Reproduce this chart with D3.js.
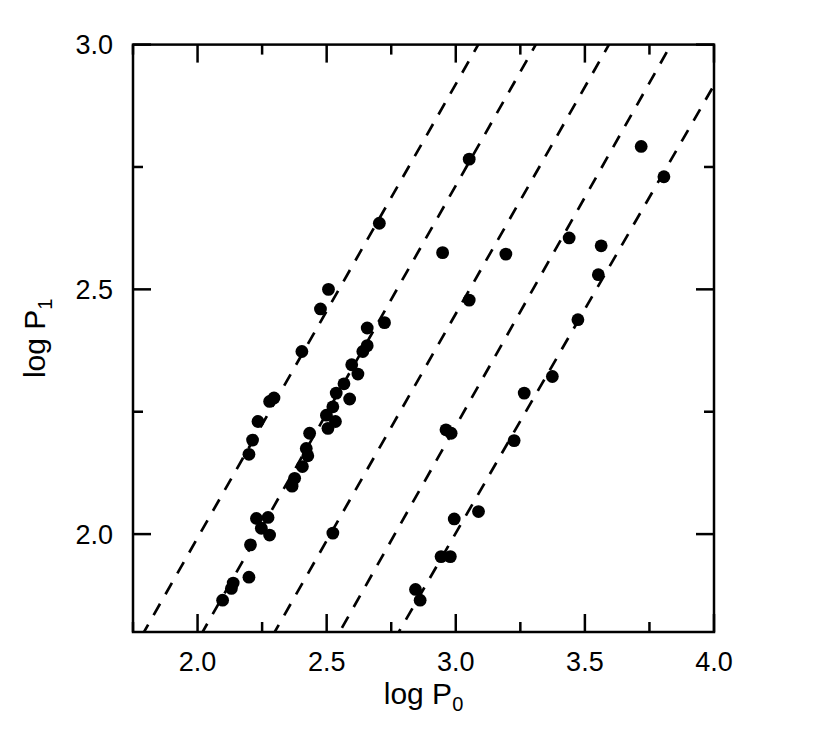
<!DOCTYPE html>
<html><head><meta charset="utf-8">
<script src="https://cdn.jsdelivr.net/npm/d3@7"></script>
<style>body{margin:0;background:#fff}svg{display:block}text{font-family:"Liberation Sans",Arial,sans-serif;fill:#000}</style>
</head><body><svg id="c" width="830" height="731"></svg>
<script>
// data
const logP0 = [2.704,2.507,2.476,2.404,2.296,2.279,2.234,2.213,2.199,
  2.228,2.273,2.247,2.279,2.205,2.199,2.138,2.131,2.097,
  2.724,2.657,2.657,2.640,2.597,2.621,2.567,2.537,2.589,2.524,2.499,2.534,2.505,2.434,2.421,2.427,2.406,2.376,2.366,2.524,
  3.052,2.949,3.194,3.718,3.806,3.439,3.563,3.552,3.052,3.473,3.374,3.265,2.962,2.982,3.226,3.088,2.994,2.943,2.979,2.844,2.862];
const logP1 = [2.635,2.500,2.460,2.373,2.278,2.271,2.230,2.192,2.163,
  2.032,2.034,2.012,1.998,1.978,1.912,1.900,1.889,1.865,
  2.432,2.421,2.385,2.373,2.346,2.327,2.307,2.288,2.276,2.260,2.243,2.230,2.216,2.206,2.175,2.160,2.138,2.114,2.098,2.002,
  2.766,2.575,2.572,2.792,2.730,2.605,2.589,2.530,2.478,2.438,2.322,2.288,2.213,2.206,2.191,2.046,2.031,1.954,1.954,1.887,1.865];
const lineSlopes = [0.927,0.930,0.927,0.935,0.915];
const lineIntercepts = [0.1383,-0.0781,-0.3309,-0.5843,-0.743];
const xTicks = [1.75,2.0,2.25,2.5,2.75,3.0,3.25,3.5,3.75,4.0];
const yTicks = [2.0,2.25,2.5,2.75,3.0];
const xLabels = ["2.0","2.5","3.0","3.5","4.0"];
const yLabels = ["2.0","2.5","3.0"];

const svg = d3.select("#c");
const L=133, R=714, T=44.6, B=632;
const x = d3.scaleLinear().domain([1.75,4.0]).range([L,R]);
const y = d3.scaleLinear().domain([1.8,3.0]).range([B,T]);
const isMajor = v => Math.abs(v*2-Math.round(v*2))<1e-6;

const plot = svg.append("g");
plot.append("defs").append("clipPath").attr("id","clip").append("rect")
  .attr("x",L).attr("y",T).attr("width",R-L).attr("height",B-T);

// dashed lines
const lg = plot.append("g").attr("clip-path","url(#clip)");
lineSlopes.forEach((s,i)=>{
  const b = lineIntercepts[i];
  const x0 = 1.6, x1 = 4.2;
  lg.append("line")
    .attr("x1",x(x0)).attr("y1",y(s*x0+b))
    .attr("x2",x(x1)).attr("y2",y(s*x1+b))
    .attr("stroke","#000").attr("stroke-width",2.7)
    .attr("stroke-dasharray","13,11");
});

// points
plot.append("g").selectAll("circle").data(logP0).join("circle")
  .attr("cx",d=>x(d)).attr("cy",(d,i)=>y(logP1[i])).attr("r",6.4).attr("fill","#000");

// axes with inward ticks
const tickLen = v => isMajor(v)?18:10;
const ax = svg.append("g").attr("stroke","#000").attr("stroke-width",2.5);
xTicks.forEach(v=>{
  ax.append("line").attr("x1",x(v)).attr("x2",x(v)).attr("y1",B).attr("y2",B-tickLen(v));
  ax.append("line").attr("x1",x(v)).attr("x2",x(v)).attr("y1",T).attr("y2",T+tickLen(v));
});
yTicks.forEach(v=>{
  ax.append("line").attr("y1",y(v)).attr("y2",y(v)).attr("x1",L).attr("x2",L+tickLen(v));
  ax.append("line").attr("y1",y(v)).attr("y2",y(v)).attr("x1",R).attr("x2",R-tickLen(v));
});
ax.append("rect").attr("x",L).attr("y",T).attr("width",R-L).attr("height",B-T).attr("fill","none");

// tick labels
svg.append("g").selectAll("text").data(xLabels).join("text")
  .attr("x",d=>x(+d)).attr("y",671).attr("text-anchor","middle")
  .attr("font-size",27).text(d=>d);
svg.append("g").selectAll("text").data(yLabels).join("text")
  .attr("x",113).attr("y",d=>y(+d)).attr("dy","0.35em").attr("text-anchor","end")
  .attr("font-size",27).text(d=>d);

// axis titles
const xt = svg.append("text").attr("x",(L+R)/2).attr("y",704).attr("text-anchor","middle").attr("font-size",30);
xt.append("tspan").text("log P");
xt.append("tspan").attr("font-size",20).attr("dy",7).text("0");
const yt = svg.append("text").attr("transform",`translate(45,${(T+B)/2}) rotate(-90)`).attr("text-anchor","middle").attr("font-size",30);
yt.append("tspan").text("log P");
yt.append("tspan").attr("font-size",20).attr("dy",7).text("1");
</script></body></html>
